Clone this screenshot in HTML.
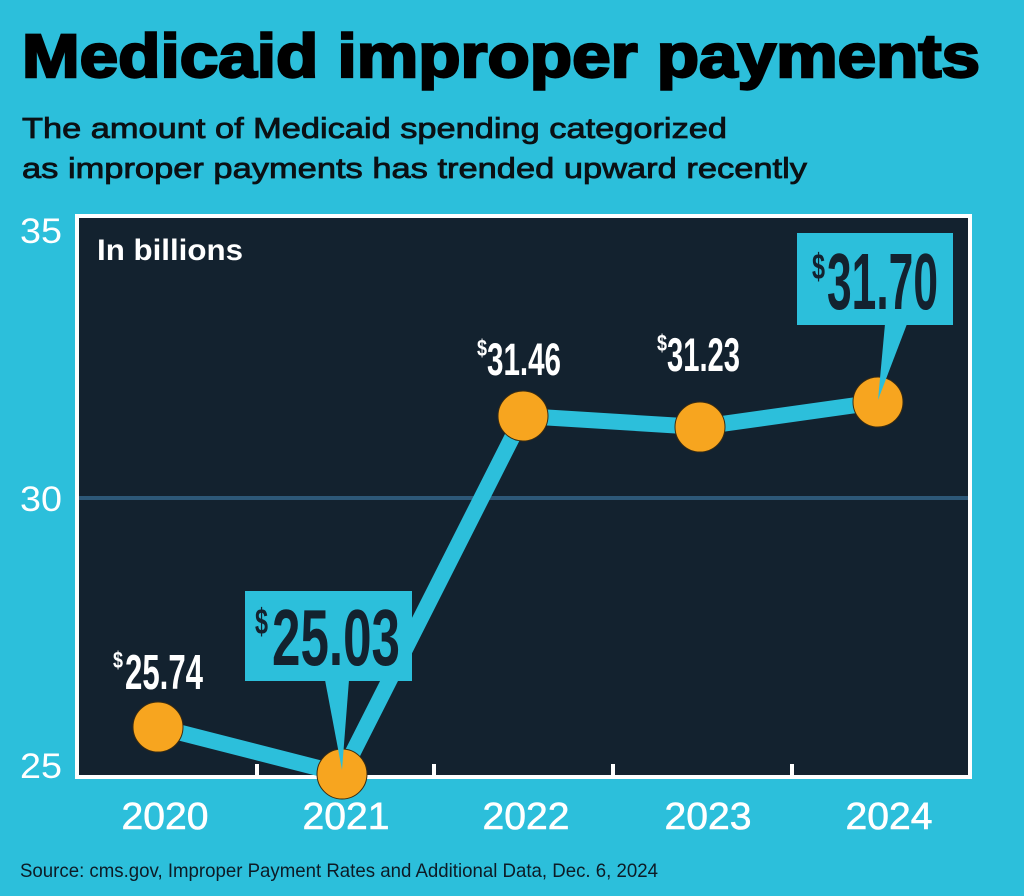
<!DOCTYPE html>
<html>
<head>
<meta charset="utf-8">
<style>
  html, body { margin:0; padding:0; background:#2cbfdb; }
  svg { display:block; }
</style>
</head>
<body>
<svg width="1024" height="896" viewBox="0 0 1024 896" xmlns="http://www.w3.org/2000/svg">
  <rect x="0" y="0" width="1024" height="896" fill="#2cbfdb"/>

  <!-- Title -->
  <text x="22" y="77" font-family="Liberation Sans, sans-serif" font-weight="bold" font-size="61" fill="#000" stroke="#000" stroke-width="2.4" textLength="958" lengthAdjust="spacingAndGlyphs">Medicaid improper payments</text>

  <!-- Subtitle -->
  <text x="22" y="138" font-family="Liberation Sans, sans-serif" font-size="28.5" fill="#0b1014" stroke="#0b1014" stroke-width="0.8" textLength="705" lengthAdjust="spacingAndGlyphs">The amount of Medicaid spending categorized</text>
  <text x="22" y="178" font-family="Liberation Sans, sans-serif" font-size="28.5" fill="#0b1014" stroke="#0b1014" stroke-width="0.8" textLength="785" lengthAdjust="spacingAndGlyphs">as improper payments has trended upward recently</text>

  <!-- Chart frame -->
  <rect x="77" y="216" width="893" height="561" fill="#13222f" stroke="#ffffff" stroke-width="4"/>

  <!-- Gridline at 30 -->
  <line x1="79" y1="498" x2="968" y2="498" stroke="#2d5878" stroke-width="4"/>

  <!-- Y axis labels -->
  <g font-family="Liberation Sans, sans-serif" font-size="35" fill="#ffffff">
    <text x="20" y="243" textLength="42" lengthAdjust="spacingAndGlyphs">35</text>
    <text x="20" y="511" textLength="42" lengthAdjust="spacingAndGlyphs">30</text>
    <text x="20" y="778" textLength="42" lengthAdjust="spacingAndGlyphs">25</text>
  </g>

  <!-- In billions -->
  <text x="97" y="260" font-family="Liberation Sans, sans-serif" font-weight="bold" font-size="30" fill="#ffffff" textLength="146" lengthAdjust="spacingAndGlyphs">In billions</text>

  <!-- X ticks -->
  <g stroke="#ffffff" stroke-width="4">
    <line x1="257" y1="764" x2="257" y2="778"/>
    <line x1="434" y1="764" x2="434" y2="778"/>
    <line x1="613" y1="764" x2="613" y2="778"/>
    <line x1="792" y1="764" x2="792" y2="778"/>
  </g>

  <!-- X labels -->
  <g font-family="Liberation Sans, sans-serif" font-size="38" fill="#ffffff" stroke="#ffffff" stroke-width="0.6" text-anchor="middle">
    <text x="165" y="829" textLength="87" lengthAdjust="spacingAndGlyphs">2020</text>
    <text x="346" y="829" textLength="87" lengthAdjust="spacingAndGlyphs">2021</text>
    <text x="526" y="829" textLength="87" lengthAdjust="spacingAndGlyphs">2022</text>
    <text x="708" y="829" textLength="87" lengthAdjust="spacingAndGlyphs">2023</text>
    <text x="889" y="829" textLength="87" lengthAdjust="spacingAndGlyphs">2024</text>
  </g>

  <!-- Data line -->
  <polyline points="158,727 342,774 523,416 700,427 878,402" fill="none" stroke="#2cbfdb" stroke-width="16" stroke-linejoin="round"/>

  <!-- Callout boxes -->
  <rect x="245" y="591" width="167" height="90" fill="#2cbfdb"/>
  <rect x="797" y="233" width="156" height="92" fill="#2cbfdb"/>

  <!-- Circles -->
  <g fill="#f7a51f" stroke="#3a2c12" stroke-width="1">
    <circle cx="158" cy="727" r="25"/>
    <circle cx="342" cy="774" r="25"/>
    <circle cx="523" cy="416" r="25"/>
    <circle cx="700" cy="427" r="25"/>
    <circle cx="878" cy="402" r="25"/>
  </g>

  <!-- Pointers (over circles) -->
  <polygon points="325,680 349,680 342,770" fill="#2cbfdb"/>
  <polygon points="885,324 907,324 878,400" fill="#2cbfdb"/>

  <!-- Big callout labels -->
  <g font-family="Liberation Sans, sans-serif" font-weight="bold" fill="#13222f">
    <text x="255" y="634" font-size="36" textLength="13" lengthAdjust="spacingAndGlyphs">$</text>
    <text x="272" y="665" font-size="80" textLength="128" lengthAdjust="spacingAndGlyphs">25.03</text>
    <text x="812" y="279" font-size="36" textLength="13" lengthAdjust="spacingAndGlyphs">$</text>
    <text x="827" y="309" font-size="80" textLength="111" lengthAdjust="spacingAndGlyphs">31.70</text>
  </g>

  <!-- Small labels -->
  <g font-family="Liberation Sans, sans-serif" font-weight="bold" fill="#ffffff">
    <text x="113" y="668" font-size="23" textLength="10" lengthAdjust="spacingAndGlyphs">$</text>
    <text x="125" y="689" font-size="49" textLength="78" lengthAdjust="spacingAndGlyphs">25.74</text>
    <text x="477" y="356" font-size="23" textLength="10" lengthAdjust="spacingAndGlyphs">$</text>
    <text x="487" y="375" font-size="45" textLength="74" lengthAdjust="spacingAndGlyphs">31.46</text>
    <text x="657" y="351" font-size="23" textLength="10" lengthAdjust="spacingAndGlyphs">$</text>
    <text x="667" y="371" font-size="47" textLength="73" lengthAdjust="spacingAndGlyphs">31.23</text>
  </g>

  <!-- Source -->
  <text x="20" y="877" font-family="Liberation Sans, sans-serif" font-size="19.5" fill="#0d1b26" textLength="638" lengthAdjust="spacingAndGlyphs">Source: cms.gov, Improper Payment Rates and Additional Data, Dec. 6, 2024</text>
</svg>
</body>
</html>
